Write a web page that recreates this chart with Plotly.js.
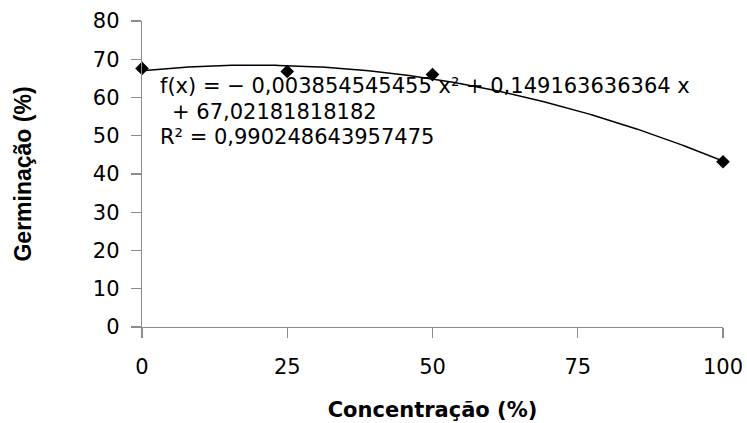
<!DOCTYPE html>
<html>
<head>
<meta charset="utf-8">
<script src="https://cdn.plot.ly/plotly-3.0.1.min.js"></script>
<style>html,body{margin:0;padding:0;background:#fff;}#chart{width:747px;height:423px;}</style>
</head>
<body>
<div id="chart"></div>
<script>
// Data
const concentracao = [0, 25, 50, 100];
const germinacao = [67.6, 66.8, 66.0, 43.2];
const xTickVals = [0, 25, 50, 75, 100];
const yTickVals = [0, 10, 20, 30, 40, 50, 60, 70, 80];
const xTitle = 'Concentração (%)';
const yTitle = 'Germinação (%)';
const equationLines = [
  'f(x) = − 0,003854545455 x² + 0,149163636364 x',
  '+ 67,02181818182',
  'R² = 0,990248643957475'
];

// Polynomial (order 2) least-squares trendline, computed from the data
function polyFit2(xs, ys) {
  const S = [0,0,0,0,0], T = [0,0,0];
  for (let i = 0; i < xs.length; i++) {
    let p = 1;
    for (let k = 0; k < 5; k++) { S[k] += p; if (k < 3) T[k] += p * ys[i]; p *= xs[i]; }
  }
  const A = [[S[0],S[1],S[2],T[0]],[S[1],S[2],S[3],T[1]],[S[2],S[3],S[4],T[2]]];
  for (let c = 0; c < 3; c++) {
    for (let r = c + 1; r < 3; r++) {
      const f = A[r][c] / A[c][c];
      for (let k = c; k < 4; k++) A[r][k] -= f * A[c][k];
    }
  }
  const b = [0,0,0];
  for (let r = 2; r >= 0; r--) {
    let s = A[r][3];
    for (let k = r + 1; k < 3; k++) s -= A[r][k] * b[k];
    b[r] = s / A[r][r];
  }
  return b; // [c0, c1, c2]
}
const coef = polyFit2(concentracao, germinacao);
const xMin = Math.min(...concentracao), xMax = Math.max(...concentracao);
const trendX = [], trendY = [];
for (let i = 0; i <= 200; i++) {
  const x = xMin + (xMax - xMin) * i / 200;
  trendX.push(x);
  trendY.push(coef[0] + coef[1] * x + coef[2] * x * x);
}

const traces = [
  {x: trendX, y: trendY, mode: 'lines', type: 'scatter',
   line: {color: '#000', width: 1.5}, hoverinfo: 'skip', showlegend: false},
  {x: concentracao, y: germinacao, mode: 'markers', type: 'scatter',
   marker: {symbol: 'diamond', size: 10.5, color: '#000'}, showlegend: false, cliponaxis: false}
];

const axisColor = '#8c8c8c';
const eqFont = {family: 'DejaVu Sans, Noto Sans', size: 21, color: '#000'};
const layout = {
  width: 747, height: 423,
  margin: {l: 142, r: 24, t: 21, b: 96},
  paper_bgcolor: '#fff', plot_bgcolor: '#fff',
  showlegend: false,
  xaxis: {
    range: [0, 100], tickvals: xTickVals, ticktext: xTickVals.map(String),
    showgrid: false, zeroline: false, showline: true, linecolor: axisColor, linewidth: 1.3,
    ticks: 'outside', ticklen: 10, tickcolor: axisColor, tickwidth: 1.3,
    tickfont: {family: 'DejaVu Sans, Liberation Sans, Arial', size: 21, color: '#000'},
    ticklabelstandoff: 10,
    title: {text: xTitle, font: {family: 'DejaVu Sans, Liberation Sans, Arial', size: 21, color: '#000', weight: 'bold'}, standoff: 24},
    fixedrange: true
  },
  yaxis: {
    range: [0, 80], tickvals: yTickVals, ticktext: yTickVals.map(String),
    showgrid: false, zeroline: false, showline: true, linecolor: axisColor, linewidth: 1.3,
    ticks: 'outside', ticklen: 10, tickcolor: axisColor, tickwidth: 1.3,
    tickfont: {family: 'DejaVu Sans, Liberation Sans, Arial', size: 21, color: '#000'},
    ticklabelstandoff: 7,
    title: {text: yTitle, font: {family: 'Liberation Sans, Arial', size: 23, color: '#000', weight: 'bold'}, standoff: 54},
    fixedrange: true
  },
  annotations: [
    {xref: 'paper', yref: 'paper', x: 0.030, y: 0.786, xanchor: 'left', yanchor: 'middle', borderpad: 0,
     text: equationLines[0], showarrow: false, font: eqFont},
    {xref: 'paper', yref: 'paper', x: 0.050, y: 0.703, xanchor: 'left', yanchor: 'middle', borderpad: 0,
     text: equationLines[1], showarrow: false, font: eqFont},
    {xref: 'paper', yref: 'paper', x: 0.030, y: 0.620, xanchor: 'left', yanchor: 'middle', borderpad: 0,
     text: equationLines[2], showarrow: false, font: eqFont}
  ]
};

Plotly.newPlot('chart', traces, layout, {staticPlot: true, displayModeBar: false});
</script>
</body>
</html>
